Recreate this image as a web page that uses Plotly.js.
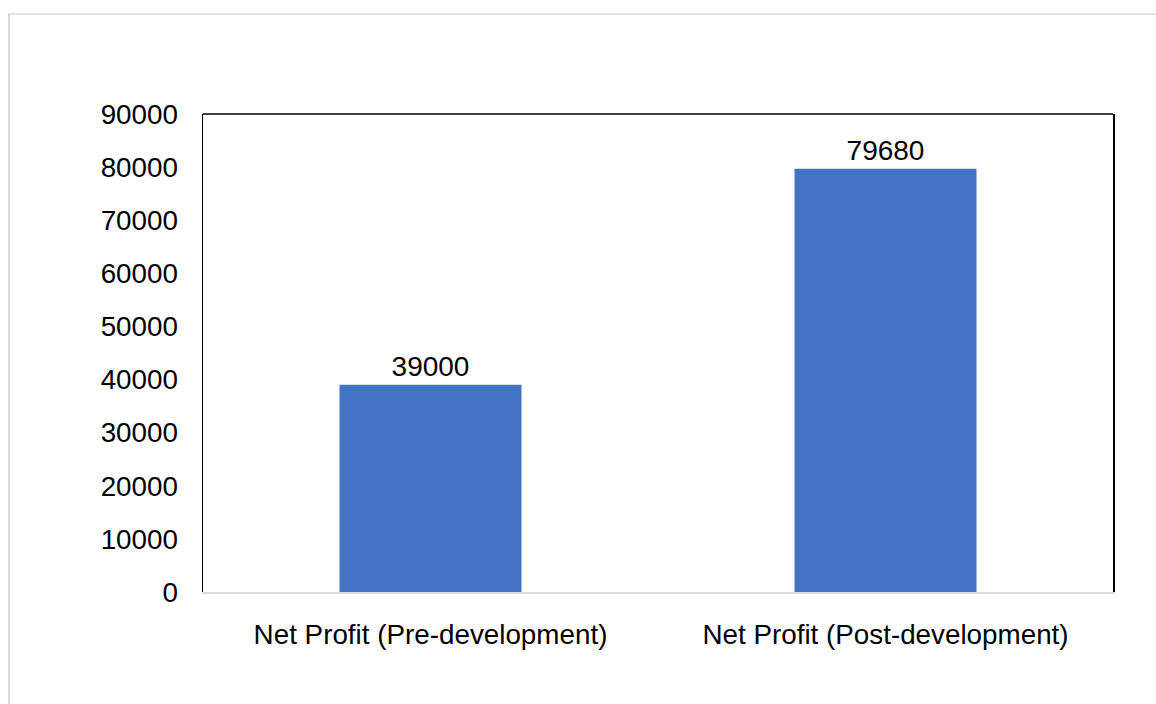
<!DOCTYPE html>
<html>
<head>
<meta charset="utf-8">
<script src="https://cdn.plot.ly/plotly-3.0.1.min.js"></script>
<style>
  html, body { margin: 0; padding: 0; background: #fff; }
  #wrap { position: relative; width: 1156px; height: 704px; overflow: hidden; }
  #frame { position: absolute; left: 8px; top: 13px; width: 1200px; height: 800px;
           border-left: 2px solid #d9d9d9; border-top: 2px solid #e3e3e3; box-sizing: border-box; }
  #chart { position: absolute; left: 0; top: 0; width: 1156px; height: 704px; }
</style>
</head>
<body>
<div id="wrap">
  <div id="chart"></div>
  <div id="frame"></div>
</div>
<script>
const categories = ["Net Profit (Pre-development)", "Net Profit (Post-development)"];
const values = [39000, 79680];
const yTicks = [0, 10000, 20000, 30000, 40000, 50000, 60000, 70000, 80000, 90000];

const trace = {
  type: "bar",
  x: categories,
  y: values,
  text: values.map(String),
  textposition: "outside",
  textfont: { family: "Liberation Sans, Arial, sans-serif", size: 28, color: "#000" },
  cliponaxis: false,
  marker: { color: "#4472c4" },
  hoverinfo: "x+y"
};

const layout = {
  width: 1156,
  height: 704,
  margin: { l: 203, r: 43, t: 114, b: 112 },
  paper_bgcolor: "rgba(0,0,0,0)",
  plot_bgcolor: "#fff",
  bargap: 0.6,
  showlegend: false,
  font: { family: "Liberation Sans, Arial, sans-serif", size: 27.8, color: "#000" },
  xaxis: {
    showline: true, linecolor: "#d9d9d9", linewidth: 2,
    ticks: "", showgrid: false, zeroline: false,
    tickfont: { size: 27.8, color: "#000" },
    ticklabelstandoff: 17
  },
  yaxis: {
    range: [0, 90000],
    tickvals: yTicks,
    ticktext: yTicks.map(String),
    showline: true, linecolor: "#000", linewidth: 1.5, mirror: true,
    ticks: "", showgrid: false, zeroline: false,
    tickfont: { size: 27.8, color: "#000" },
    ticklabelstandoff: 18
  },
  shapes: [
    { type: "line", xref: "paper", yref: "paper", x0: 0, x1: 1, y0: 1, y1: 1,
      line: { color: "#000", width: 1.5 } }
  ]
};

Plotly.newPlot("chart", [trace], layout, { displayModeBar: false, staticPlot: true });
</script>
</body>
</html>
